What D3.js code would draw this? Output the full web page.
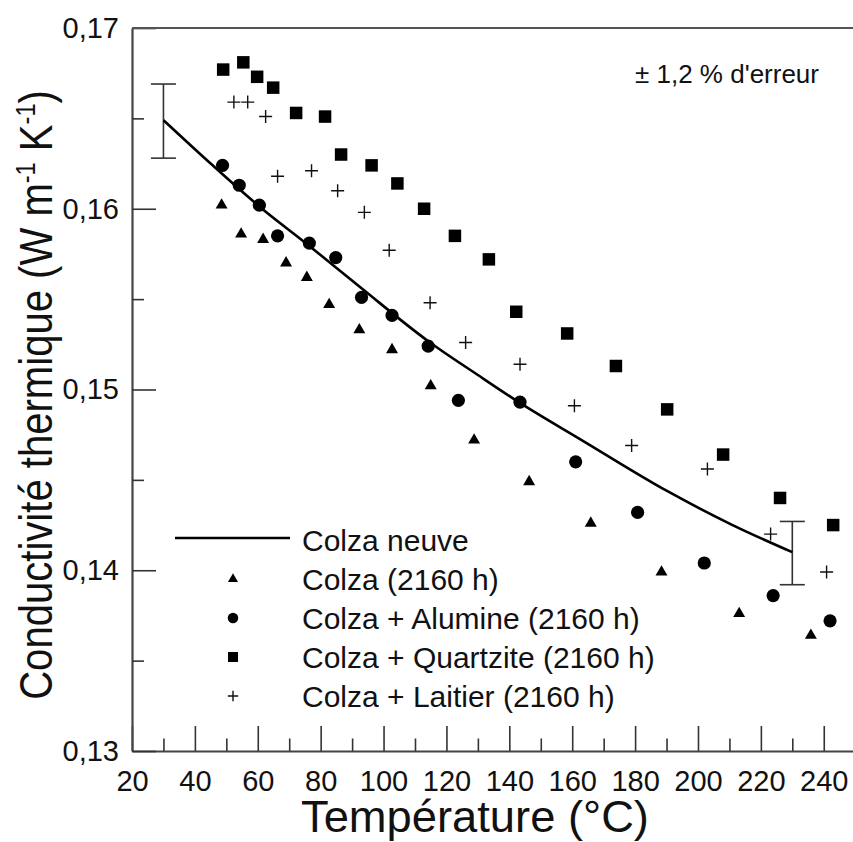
<!DOCTYPE html>
<html>
<head>
<meta charset="utf-8">
<script src="https://cdn.jsdelivr.net/npm/d3@7"></script>
<style>
  body { margin: 0; background: #fff; }
  svg { display: block; font-family: "Liberation Sans", Arial, sans-serif; }
</style>
</head>
<body>
<div id="chart"></div>
<script>
// temperatures (°C) and conductivity values
var colzaNeuveT = [30, 45, 60, 76, 93, 114, 130, 143, 163, 190, 211, 230];
var colzaNeuveV = [0.1649, 0.1625, 0.1602, 0.1580, 0.1556, 0.1527, 0.1508, 0.1493, 0.1472, 0.1444, 0.1425, 0.1410];

var colzaT = [48.5, 54.7, 61.7, 69.0, 75.6, 82.7, 92.3, 102.7, 115.0, 128.8, 146.3, 165.9, 188.4, 213.1, 235.9];
var colzaV = [0.1602, 0.1586, 0.1583, 0.1570, 0.1562, 0.1547, 0.1533, 0.1522, 0.1502, 0.1472, 0.1449, 0.1426, 0.1399, 0.1376, 0.1364];

var alumineT = [48.8, 54.1, 60.5, 66.3, 76.4, 84.8, 93.0, 102.7, 114.2, 123.8, 143.4, 161.1, 180.8, 202.0, 223.9, 242.0];
var alumineV = [0.1624, 0.1613, 0.1602, 0.1585, 0.1581, 0.1573, 0.1551, 0.1541, 0.1524, 0.1494, 0.1493, 0.1460, 0.1432, 0.1404, 0.1386, 0.1372];

var quartziteT = [49.0, 55.4, 59.8, 64.9, 72.2, 81.4, 86.5, 96.2, 104.4, 112.9, 122.7, 133.5, 142.2, 158.4, 173.9, 190.2, 208.0, 226.1, 243.0];
var quartziteV = [0.1677, 0.1681, 0.1673, 0.1667, 0.1653, 0.1651, 0.1630, 0.1624, 0.1614, 0.1600, 0.1585, 0.1572, 0.1543, 0.1531, 0.1513, 0.1489, 0.1464, 0.1440, 0.1425];

var laitierT = [52.4, 56.8, 62.5, 66.3, 77.1, 85.4, 93.9, 101.8, 114.8, 126.1, 143.4, 160.7, 178.9, 203.0, 223.1, 240.9];
var laitierV = [0.1659, 0.1659, 0.1651, 0.1618, 0.1621, 0.1610, 0.1598, 0.1577, 0.1548, 0.1526, 0.1514, 0.1491, 0.1469, 0.1456, 0.1420, 0.1399];

// error bars (± 1,2 %)
var errT = [30, 230];
var errLow = [0.1628, 0.1392];
var errHigh = [0.1669, 0.1427];

var xTicks = [20, 40, 60, 80, 100, 120, 140, 160, 180, 200, 220, 240];
var xMinor = [30, 50, 70, 90, 110, 130, 150, 170, 190, 210, 230];
var yTicks = [0.13, 0.14, 0.15, 0.16, 0.17];
var yMinor = [0.135, 0.145, 0.155, 0.165];

var legendNames = ["Colza neuve", "Colza (2160 h)", "Colza + Alumine (2160 h)", "Colza + Quartzite (2160 h)", "Colza + Laitier (2160 h)"];

var width = 853, height = 842;
var margin = {top: 28, left: 132, bottom: 751};

var svg = d3.select("#chart").append("svg")
    .attr("width", width)
    .attr("height", height);

var x = d3.scaleLinear().domain([20, 250]).range([132, 855.2]);
var y = d3.scaleLinear().domain([0.13, 0.17]).range([751, 28]);

var comma = function(d) { return d3.format(".2f")(d).replace(".", ","); };

// bottom axis, ticks pointing inward
svg.append("g")
    .attr("transform", "translate(0," + margin.bottom + ")")
    .call(d3.axisBottom(x).tickValues(xTicks).tickSizeInner(-25).tickSizeOuter(0).tickPadding(19));
svg.append("g")
    .attr("transform", "translate(0," + margin.bottom + ")")
    .call(d3.axisBottom(x).tickValues(xMinor).tickSizeInner(-12.5).tickSizeOuter(0).tickFormat(""))
    .select(".domain").remove();

svg.append("g")
    .attr("transform", "translate(" + margin.left + ",0)")
    .call(d3.axisLeft(y).tickValues(yTicks).tickSizeInner(-24).tickSizeOuter(0).tickPadding(13).tickFormat(comma));
svg.append("g")
    .attr("transform", "translate(" + margin.left + ",0)")
    .call(d3.axisLeft(y).tickValues(yMinor).tickSizeInner(-12).tickSizeOuter(0).tickFormat(""))
    .select(".domain").remove();

svg.selectAll(".domain").attr("stroke", "#444").attr("stroke-width", 2.2);
svg.selectAll(".tick line").attr("stroke", "#333").attr("stroke-width", 1.6);
svg.selectAll(".tick text").attr("font-size", 29).attr("fill", "#111")
    .attr("font-family", "'Liberation Sans', Arial, sans-serif");

// top frame line
svg.append("line")
    .attr("x1", margin.left).attr("x2", width)
    .attr("y1", y(0.17)).attr("y2", y(0.17))
    .attr("stroke", "#555").attr("stroke-width", 2.2);

// axis titles
var xTitle = svg.append("text")
    .attr("x", 475).attr("y", 832)
    .attr("text-anchor", "middle")
    .attr("font-size", 44)
    .attr("fill", "#111")
    .text("Température (°C)");
var xw = xTitle.node().getComputedTextLength();
xTitle.attr("transform", "translate(475,0) scale(" + (348 / xw) + ",1) translate(-475,0)");

var yTitle = svg.append("text")
    .attr("text-anchor", "middle")
    .attr("font-size", 46)
    .attr("fill", "#111");
yTitle.append("tspan").text("Conductivité thermique (W m");
yTitle.append("tspan").attr("font-size", 27).attr("dy", -17).text("-1");
yTitle.append("tspan").attr("dy", 17).text(" K");
yTitle.append("tspan").attr("font-size", 27).attr("dy", -17).text("-1");
yTitle.append("tspan").attr("dy", 17).text(")");
var yw = yTitle.node().getBBox().width;
yTitle.attr("transform", "translate(52,395) rotate(-90) scale(" + (610 / yw) + ",1)");

// error bars
errT.forEach(function(t, i) {
    var g = svg.append("g").attr("stroke", "#333").attr("stroke-width", 1.6);
    g.append("line").attr("x1", x(t)).attr("x2", x(t)).attr("y1", y(errLow[i])).attr("y2", y(errHigh[i]));
    g.append("line").attr("x1", x(t) - 12.5).attr("x2", x(t) + 12.5).attr("y1", y(errLow[i])).attr("y2", y(errLow[i]));
    g.append("line").attr("x1", x(t) - 12.5).attr("x2", x(t) + 12.5).attr("y1", y(errHigh[i])).attr("y2", y(errHigh[i]));
});

// fitted curve for fresh oil
var line = d3.line()
    .x(function(d) { return x(d[0]); })
    .y(function(d) { return y(d[1]); })
    .curve(d3.curveMonotoneX);
svg.append("path")
    .datum(d3.zip(colzaNeuveT, colzaNeuveV))
    .attr("d", line)
    .attr("fill", "none")
    .attr("stroke", "#000")
    .attr("stroke-width", 2.6);

// marker shapes
var triPath = d3.symbol().type(d3.symbolTriangle).size(62)();
var triSmall = d3.symbol().type(d3.symbolTriangle).size(44)();
var plusPath = function(r) { return "M" + (-r) + ",0H" + r + "M0," + (-r) + "V" + r; };

function drawSeries(T, V, kind, scale) {
    var pts = d3.zip(T, V);
    var g = svg.append("g");
    var sel = g.selectAll("path").data(pts).enter().append("path")
        .attr("transform", function(d) { return "translate(" + x(d[0]) + "," + y(d[1]) + ")"; });
    styleMarker(sel, kind, scale);
}

function styleMarker(sel, kind, scale) {
    if (kind === "triangle") {
        sel.attr("d", scale < 1 ? triSmall : triPath).attr("fill", "#000");
    } else if (kind === "circle") {
        sel.attr("d", d3.symbol().type(d3.symbolCircle).size(Math.PI * Math.pow(6.6 * scale, 2))()).attr("fill", "#000");
    } else if (kind === "square") {
        sel.attr("d", d3.symbol().type(d3.symbolSquare).size(Math.pow(12.5 * scale, 2))()).attr("fill", "#000");
    } else {
        sel.attr("d", plusPath(6.5 * scale)).attr("fill", "none").attr("stroke", "#111").attr("stroke-width", 1.4);
    }
}

drawSeries(colzaT, colzaV, "triangle", 1);
drawSeries(alumineT, alumineV, "circle", 1);
drawSeries(quartziteT, quartziteV, "square", 1);
drawSeries(laitierT, laitierV, "plus", 1);

// legend
var legendY = [540, 579, 618, 657, 696];
var kinds = ["line", "triangle", "circle", "square", "plus"];
var legend = svg.append("g");
legendNames.forEach(function(name, i) {
    if (kinds[i] === "line") {
        legend.append("line")
            .attr("x1", 175).attr("x2", 290)
            .attr("y1", legendY[i] - 2).attr("y2", legendY[i] - 2)
            .attr("stroke", "#000").attr("stroke-width", 2.6);
    } else {
        var m = legend.append("path").attr("transform", "translate(233," + legendY[i] + ")");
        styleMarker(m, kinds[i], 0.8);
    }
    legend.append("text")
        .attr("x", 302).attr("y", legendY[i])
        .attr("dy", "0.36em")
        .attr("font-size", 30)
        .attr("fill", "#111")
        .text(name);
});

// error note
svg.append("text")
    .attr("x", 635).attr("y", 83)
    .attr("font-size", 26)
    .attr("fill", "#111")
    .text("± 1,2 % d'erreur");
</script>
</body>
</html>
